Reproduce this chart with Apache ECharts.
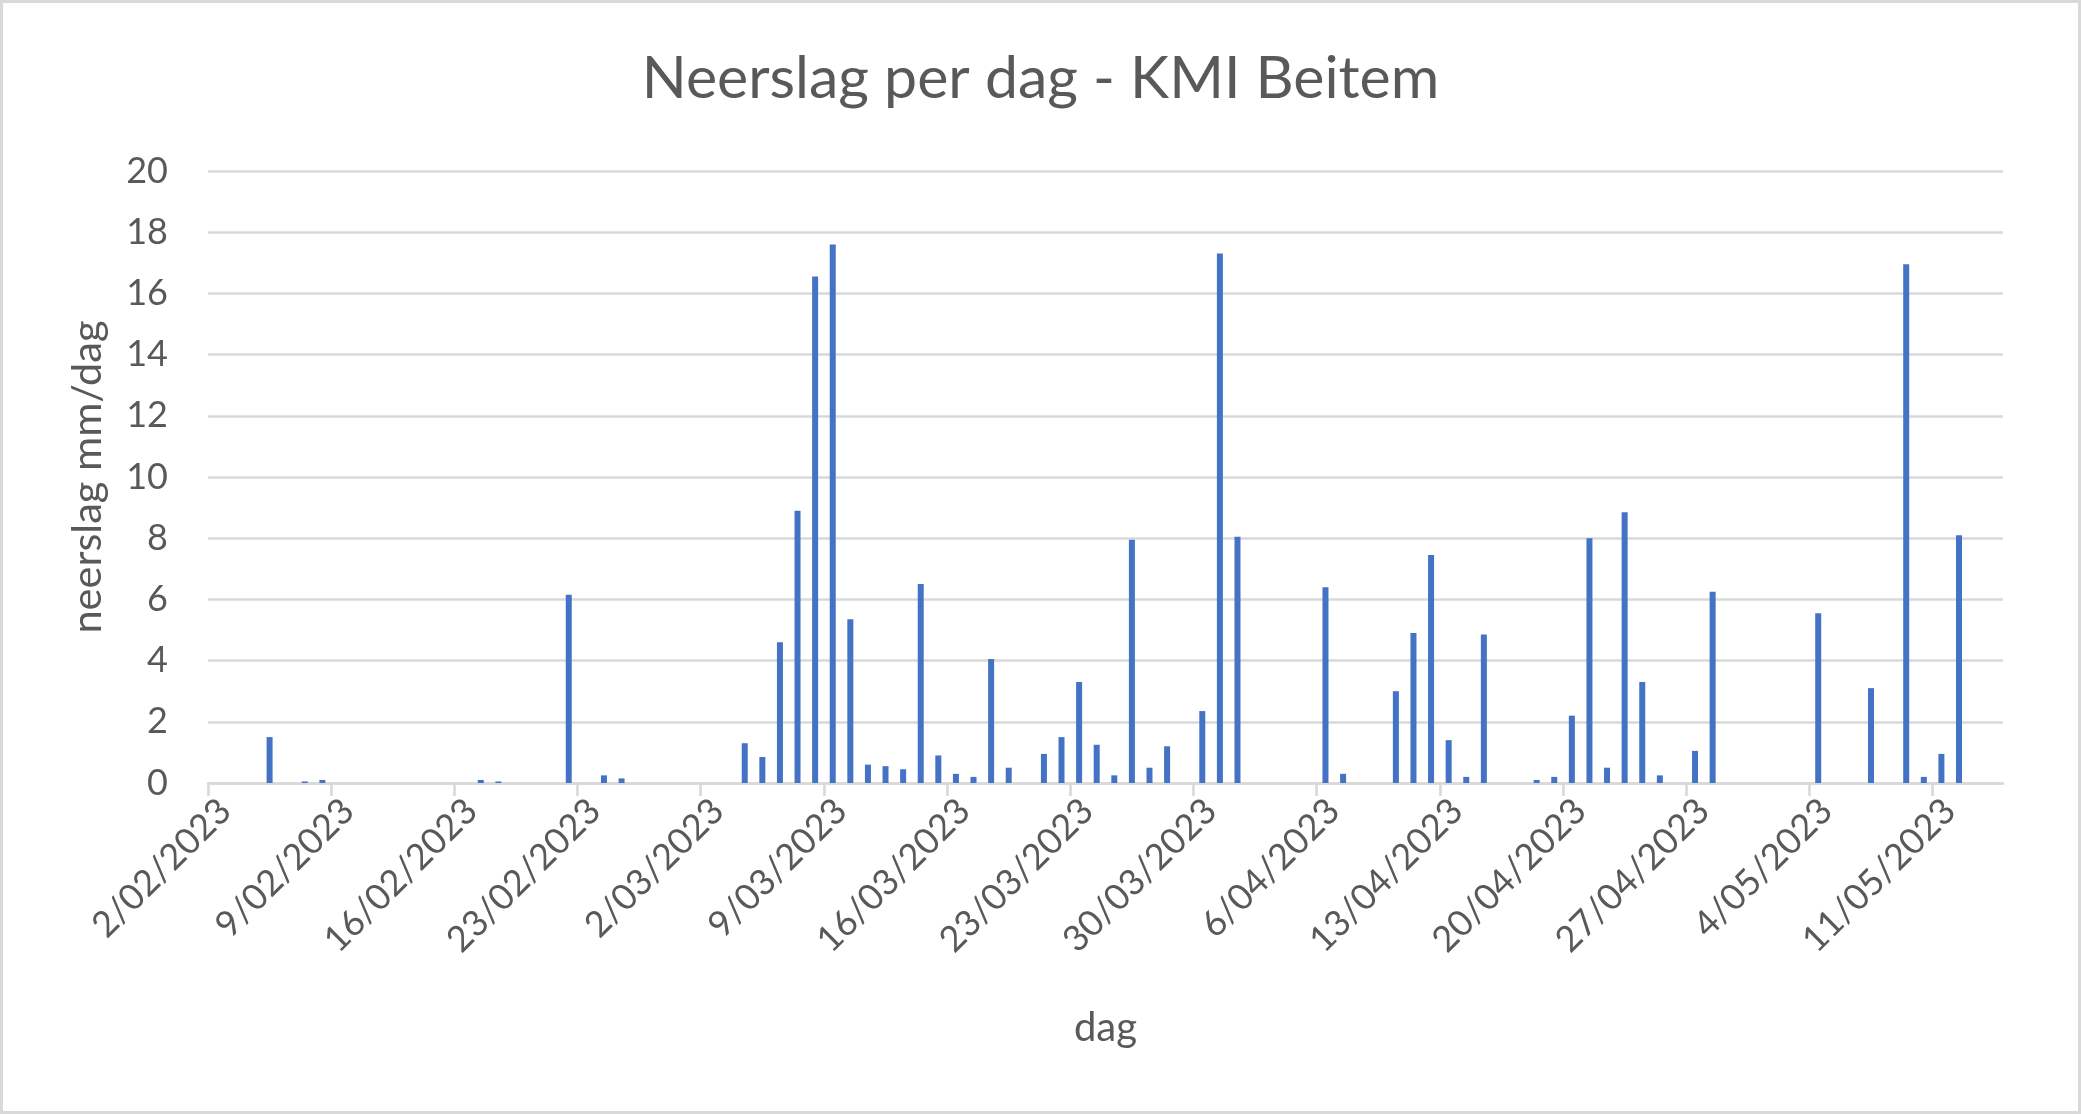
<!DOCTYPE html>
<html>
<head>
<meta charset="utf-8">
<script src="https://cdn.jsdelivr.net/npm/echarts@6/dist/echarts.min.js"></script>
<style>
html,body{margin:0;padding:0;background:#fff;}
#chart{width:2081px;height:1114px;}
</style>
</head>
<body>
<div id="chart"></div>
<script>
// ---- data ----
const startDate = '2023-02-02';
const dayCount = 102; // axis spans 2/02/2023 .. 15/05/2023
const rainDays = [
  '2023-02-05','2023-02-07','2023-02-08','2023-02-17','2023-02-18','2023-02-22','2023-02-24','2023-02-25',
  '2023-03-04','2023-03-05','2023-03-06','2023-03-07','2023-03-08','2023-03-09','2023-03-10','2023-03-11',
  '2023-03-12','2023-03-13','2023-03-14','2023-03-15','2023-03-16','2023-03-17','2023-03-18','2023-03-19',
  '2023-03-21','2023-03-22','2023-03-23','2023-03-24','2023-03-25','2023-03-26','2023-03-27','2023-03-28',
  '2023-03-30','2023-03-31','2023-04-01','2023-04-06','2023-04-07','2023-04-10','2023-04-11','2023-04-12',
  '2023-04-13','2023-04-14','2023-04-15','2023-04-18','2023-04-19','2023-04-20','2023-04-21','2023-04-22',
  '2023-04-23','2023-04-24','2023-04-25','2023-04-27','2023-04-28','2023-05-04','2023-05-07','2023-05-09',
  '2023-05-10','2023-05-11','2023-05-12'
];
const rainMm = [
  1.5, 0.05, 0.1, 0.1, 0.05, 6.15, 0.25, 0.15,
  1.3, 0.85, 4.6, 8.9, 16.55, 17.6, 5.35, 0.6,
  0.55, 0.45, 6.5, 0.9, 0.3, 0.2, 4.05, 0.5,
  0.95, 1.5, 3.3, 1.25, 0.25, 7.95, 0.5, 1.2,
  2.35, 17.3, 8.05, 6.4, 0.3, 3.0, 4.9, 7.45,
  1.4, 0.2, 4.85, 0.1, 0.2, 2.2, 8.0, 0.5,
  8.85, 3.3, 0.25, 1.05, 6.25, 5.55, 3.1, 16.95,
  0.2, 0.95, 8.1
];
const tickLabels = ['2/02/2023','9/02/2023','16/02/2023','23/02/2023','2/03/2023','9/03/2023','16/03/2023',
  '23/03/2023','30/03/2023','6/04/2023','13/04/2023','20/04/2023','27/04/2023','4/05/2023','11/05/2023'];
const yTicks = [0,2,4,6,8,10,12,14,16,18,20];

// ---- build ----
const DAY = 86400000;
const t0 = Date.parse(startDate + 'T00:00:00Z');
const dayIndex = d => Math.round((Date.parse(d + 'T00:00:00Z') - t0) / DAY);
const barData = rainDays.map((d, k) => [dayIndex(d) + 0.5, rainMm[k]]);
const tickPos = tickLabels.map((_, k) => k * 7);
const labelAt = {};
tickPos.forEach((p, k) => labelAt[p] = tickLabels[k]);

const txt = '#595959';
const grid = '#D9D9D9';
const font = 'Lato';

const chart = echarts.init(document.getElementById('chart'), null, {renderer: 'canvas'});
chart.setOption({
  animation: false,
  backgroundColor: '#fff',
  title: {
    text: 'Neerslag per dag - KMI Beitem',
    left: 'center',
    top: 44,
    textStyle: {fontFamily: font, fontSize: 59, fontWeight: 'normal', color: txt}
  },
  grid: {left: 208, right: 78, top: 171, bottom: 331, containLabel: false},
  xAxis: {
    type: 'value',
    min: 0,
    max: dayCount,
    interval: 7,
    name: 'dag',
    nameLocation: 'middle',
    nameGap: 225,
    nameTextStyle: {fontFamily: font, fontSize: 40, color: txt},
    axisLine: {show: true, lineStyle: {color: grid, width: 2.6}},
    axisTick: {show: true, length: 13, customValues: tickPos, lineStyle: {color: grid, width: 2.6}},
    axisLabel: {
      customValues: tickPos,
      rotate: 45,
      margin: 39,
      padding: [0, -24, 0, 0],
      fontFamily: font, fontSize: 36, color: txt,
      formatter: v => labelAt[v] || ''
    },
    splitLine: {show: false}
  },
  yAxis: {
    type: 'value',
    min: 0,
    max: 20,
    interval: 2,
    name: 'neerslag mm/dag',
    nameLocation: 'middle',
    nameGap: 99,
    nameTextStyle: {fontFamily: font, fontSize: 41.5, color: txt},
    axisLine: {show: false},
    axisTick: {show: false},
    axisLabel: {margin: 40, fontFamily: font, fontSize: 36, color: txt,
      formatter: v => yTicks.includes(v) ? String(v) : ''},
    splitLine: {show: true, lineStyle: {color: grid, width: 2.6}}
  },
  series: [{
    type: 'bar',
    data: barData,
    barWidth: 6,
    itemStyle: {color: '#4472C4'},
    silent: true
  }],
  graphic: [{
    type: 'rect',
    shape: {x: 1.5, y: 1.5, width: 2078, height: 1111},
    style: {fill: 'none', stroke: grid, lineWidth: 3},
    silent: true
  }]
});
</script>
</body>
</html>
